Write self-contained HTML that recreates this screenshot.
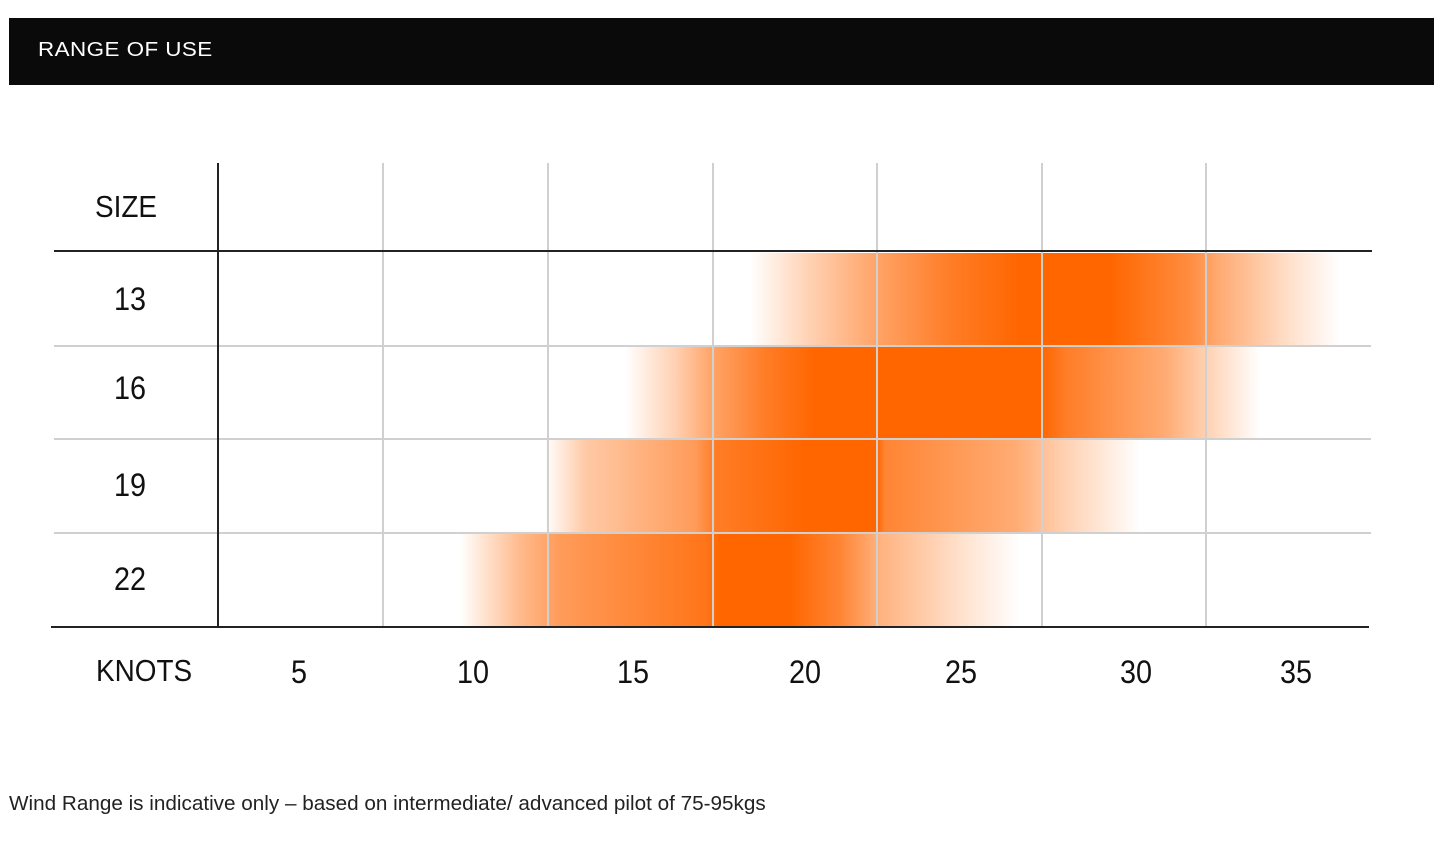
<!DOCTYPE html>
<html><head><style>
body{margin:0;width:1445px;height:850px;background:#fff;position:relative;overflow:hidden;font-family:"Liberation Sans",sans-serif}
.hdr{position:absolute;left:9px;top:18px;width:1425px;height:67px;background:#0a0a0a}
.hdr span{position:absolute;left:29px;top:21px;color:#fff;font-size:20px;letter-spacing:0.4px;transform:scaleX(1.12);transform-origin:left}
.a{position:absolute}
.vl{position:absolute;top:163px;height:464px;width:2px;background:#d0d0d0}
.hl{position:absolute;height:2px;background:#d0d0d0;left:54px;width:1317px}
.bar{position:absolute;height:93px}
.lab{position:absolute;font-size:32px;color:#111;transform:scaleX(0.9);transform-origin:left}
</style></head><body>
<div class="hdr"><span>RANGE OF USE</span></div>

<div class="bar" style="top:253px;left:750px;width:600px;background:linear-gradient(90deg,rgba(255,102,0,0) 0px,rgba(255,102,0,.3) 60px,rgba(255,102,0,.6) 127px,rgba(255,102,0,.85) 200px,#ff6600 270px,#ff6600 360px,rgba(255,102,0,.75) 440px,rgba(255,102,0,.55) 470px,rgba(255,102,0,.2) 540px,rgba(255,102,0,0) 590px)"></div>
<div class="bar" style="top:347px;left:625px;width:650px;background:linear-gradient(90deg,rgba(255,102,0,0) 0px,rgba(255,102,0,.3) 50px,rgba(255,102,0,.6) 88px,rgba(255,102,0,.85) 140px,#ff6600 190px,#ff6600 417px,rgba(255,102,0,.85) 440px,rgba(255,102,0,.55) 540px,rgba(255,102,0,.3) 581px,rgba(255,102,0,0) 635px)"></div>
<div class="bar" style="top:440px;left:545px;width:610px;background:linear-gradient(90deg,rgba(255,102,0,0) 0px,rgba(255,102,0,.35) 40px,rgba(255,102,0,.65) 150px,rgba(255,102,0,.85) 170px,#ff6600 260px,#ff6600 332px,rgba(255,102,0,.8) 340px,rgba(255,102,0,.55) 470px,rgba(255,102,0,.3) 520px,rgba(255,102,0,0) 595px)"></div>
<div class="bar" style="top:534px;left:460px;width:570px;background:linear-gradient(90deg,rgba(255,102,0,0) 0px,rgba(255,102,0,.45) 60px,rgba(255,102,0,.65) 100px,rgba(255,102,0,.9) 245px,#ff6600 260px,#ff6600 330px,rgba(255,102,0,.8) 380px,rgba(255,102,0,.5) 420px,rgba(255,102,0,.2) 500px,rgba(255,102,0,0) 560px)"></div>

<div class="vl" style="left:382px"></div>
<div class="vl" style="left:547px"></div>
<div class="vl" style="left:712px"></div>
<div class="vl" style="left:876px"></div>
<div class="vl" style="left:1041px"></div>
<div class="vl" style="left:1205px"></div>
<div class="hl" style="top:345px"></div>
<div class="hl" style="top:438px"></div>
<div class="hl" style="top:532px"></div>
<div class="a" style="left:217px;top:163px;width:2px;height:465px;background:#222"></div>
<div class="a" style="left:54px;top:250px;width:1318px;height:2px;background:#222"></div>
<div class="a" style="left:51px;top:626px;width:1318px;height:2px;background:#222"></div>

<div class="lab" style="left:95px;top:189px;font-size:31px">SIZE</div>
<div class="lab" style="left:114px;top:281px">13</div>
<div class="lab" style="left:114px;top:370px">16</div>
<div class="lab" style="left:114px;top:467px">19</div>
<div class="lab" style="left:114px;top:561px">22</div>
<div class="lab" style="left:96px;top:653px;font-size:31px">KNOTS</div>
<div class="lab" style="left:291px;top:654px">5</div>
<div class="lab" style="left:457px;top:654px">10</div>
<div class="lab" style="left:617px;top:654px">15</div>
<div class="lab" style="left:789px;top:654px">20</div>
<div class="lab" style="left:945px;top:654px">25</div>
<div class="lab" style="left:1120px;top:654px">30</div>
<div class="lab" style="left:1280px;top:654px">35</div>

<div class="a" style="left:9px;top:792px;font-size:20.7px;color:#222">Wind Range is indicative only – based on intermediate/ advanced pilot of 75-95kgs</div>
</body></html>
